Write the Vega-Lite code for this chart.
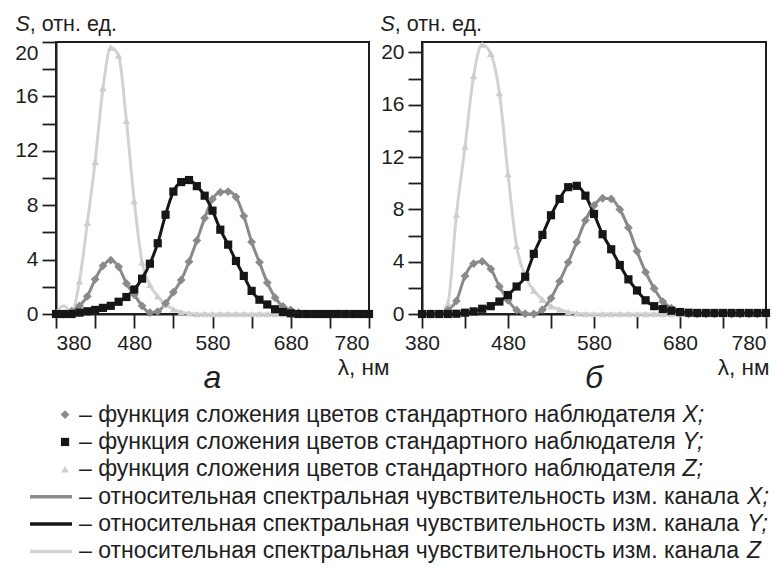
{
  "$schema": "https://vega.github.io/schema/vega-lite/v6.json",
  "background": "white",
  "padding": {"left": 13, "top": 12, "right": 5, "bottom": 2},
  "spacing": 0,
  "config": {
    "font": "Liberation Sans",
    "view": {"stroke": "#1e1e1e", "strokeWidth": 2},
    "axis": {"grid": false, "domainColor": "#1e1e1e", "domainWidth": 2, "tickColor": "#1e1e1e", "tickWidth": 1.8, "tickSize": 14, "labelFont": "Liberation Sans", "labelFontSize": 21, "labelColor": "#1e1e1e", "labelPadding": 4, "titleFont": "Liberation Sans", "titleFontSize": 21.5, "titleFontWeight": "normal", "titleColor": "#1e1e1e"},
    "title": {"font": "Liberation Sans", "fontSize": 32, "fontStyle": "italic", "fontWeight": "normal", "color": "#1e1e1e", "orient": "bottom", "frame": "group", "offset": -16}
  },
  "datasets": {
    "curves": [
      {"p":"а","lam":380,"fX":0,"fY":0,"fZ":0,"cX":0,"cY":0,"cZ":0.1},
      {"p":"а","lam":390,"fX":0,"fY":0,"fZ":0,"cX":0,"cY":0,"cZ":0.6},
      {"p":"а","lam":400,"fX":0.2,"fY":0,"fZ":0.2,"cX":0.2,"cY":0,"cZ":0.15},
      {"p":"а","lam":410,"fX":0.6,"fY":0.1,"fZ":2.4,"cX":0.6,"cY":0.1,"cZ":2.4},
      {"p":"а","lam":420,"fX":1.3,"fY":0.2,"fZ":6.7,"cX":1.3,"cY":0.2,"cZ":6.7},
      {"p":"а","lam":430,"fX":2.55,"fY":0.3,"fZ":11.2,"cX":2.55,"cY":0.3,"cZ":11.2},
      {"p":"а","lam":440,"fX":3.55,"fY":0.45,"fZ":16.6,"cX":3.55,"cY":0.45,"cZ":16.6},
      {"p":"а","lam":450,"fX":3.96,"fY":0.6,"fZ":19.6,"cX":3.96,"cY":0.6,"cZ":19.6},
      {"p":"а","lam":460,"fX":3.47,"fY":0.9,"fZ":19.0,"cX":3.47,"cY":0.9,"cZ":19.0},
      {"p":"а","lam":470,"fX":2.25,"fY":1.25,"fZ":14.2,"cX":2.25,"cY":1.25,"cZ":14.2},
      {"p":"а","lam":480,"fX":1.42,"fY":1.8,"fZ":8.3,"cX":1.42,"cY":1.8,"cZ":8.3},
      {"p":"а","lam":490,"fX":0.6,"fY":2.6,"fZ":3.8,"cX":0.6,"cY":2.6,"cZ":3.8},
      {"p":"а","lam":500,"fX":0.1,"fY":3.7,"fZ":2.15,"cX":0.1,"cY":3.7,"cZ":2.15},
      {"p":"а","lam":510,"fX":0.18,"fY":5.2,"fZ":1.3,"cX":0.18,"cY":5.2,"cZ":1.3},
      {"p":"а","lam":520,"fX":0.78,"fY":7.3,"fZ":0.7,"cX":0.78,"cY":7.3,"cZ":0.7},
      {"p":"а","lam":530,"fX":1.6,"fY":9.0,"fZ":0.35,"cX":1.6,"cY":9.0,"cZ":0.35},
      {"p":"а","lam":540,"fX":2.5,"fY":9.7,"fZ":0.15,"cX":2.5,"cY":9.7,"cZ":0.15},
      {"p":"а","lam":550,"fX":3.85,"fY":9.85,"fZ":0.05,"cX":3.85,"cY":9.85,"cZ":0.05},
      {"p":"а","lam":560,"fX":5.4,"fY":9.4,"fZ":0,"cX":5.4,"cY":9.4,"cZ":0},
      {"p":"а","lam":570,"fX":7.05,"fY":8.7,"fZ":0,"cX":7.05,"cY":8.7,"cZ":0},
      {"p":"а","lam":580,"fX":8.45,"fY":7.6,"fZ":0,"cX":8.45,"cY":7.6,"cZ":0},
      {"p":"а","lam":590,"fX":8.95,"fY":6.2,"fZ":0,"cX":8.95,"cY":6.2,"cZ":0},
      {"p":"а","lam":600,"fX":9.0,"fY":5.1,"fZ":0,"cX":9.0,"cY":5.1,"cZ":0},
      {"p":"а","lam":610,"fX":8.6,"fY":3.9,"fZ":0,"cX":8.6,"cY":3.9,"cZ":0},
      {"p":"а","lam":620,"fX":7.2,"fY":2.8,"fZ":0,"cX":7.2,"cY":2.8,"cZ":0},
      {"p":"а","lam":630,"fX":5.3,"fY":1.7,"fZ":0,"cX":5.3,"cY":1.7,"cZ":0},
      {"p":"а","lam":640,"fX":3.8,"fY":1.05,"fZ":0,"cX":3.8,"cY":1.05,"cZ":0},
      {"p":"а","lam":650,"fX":2.3,"fY":0.7,"fZ":0,"cX":2.3,"cY":0.7,"cZ":0},
      {"p":"а","lam":660,"fX":1.2,"fY":0.35,"fZ":0,"cX":1.2,"cY":0.35,"cZ":0},
      {"p":"а","lam":670,"fX":0.55,"fY":0.15,"fZ":0,"cX":0.55,"cY":0.15,"cZ":0},
      {"p":"а","lam":680,"fX":0.3,"fY":0.05,"fZ":0,"cX":0.3,"cY":0.05,"cZ":0},
      {"p":"а","lam":690,"fX":0.1,"fY":0,"fZ":0,"cX":0.1,"cY":0,"cZ":0},
      {"p":"а","lam":700,"fX":0,"fY":0,"fZ":0,"cX":0,"cY":0,"cZ":0},
      {"p":"а","lam":710,"fX":0,"fY":0,"fZ":0,"cX":0,"cY":0,"cZ":0},
      {"p":"а","lam":720,"fX":0,"fY":0,"fZ":0,"cX":0,"cY":0,"cZ":0},
      {"p":"а","lam":730,"fX":0,"fY":0,"fZ":0,"cX":0,"cY":0,"cZ":0},
      {"p":"а","lam":740,"fX":0,"fY":0,"fZ":0,"cX":0,"cY":0,"cZ":0},
      {"p":"а","lam":750,"fX":0,"fY":0,"fZ":0,"cX":0,"cY":0,"cZ":0},
      {"p":"а","lam":760,"fX":0,"fY":0,"fZ":0,"cX":0,"cY":0,"cZ":0},
      {"p":"а","lam":770,"fX":0,"fY":0,"fZ":0,"cX":0,"cY":0,"cZ":0},
      {"p":"а","lam":780,"fX":0,"fY":0,"fZ":0,"cX":0,"cY":0,"cZ":0},
      {"p":"б","lam":380,"fX":0,"fY":0,"fZ":0,"cX":0,"cY":0,"cZ":0},
      {"p":"б","lam":390,"fX":0,"fY":0,"fZ":0,"cX":0,"cY":0,"cZ":0},
      {"p":"б","lam":400,"fX":0,"fY":0,"fZ":0,"cX":0,"cY":0,"cZ":0},
      {"p":"б","lam":410,"fX":0.3,"fY":0,"fZ":0.8,"cX":0.3,"cY":0,"cZ":0.8},
      {"p":"б","lam":420,"fX":1.0,"fY":0.02,"fZ":7.6,"cX":1.0,"cY":0.02,"cZ":7.6},
      {"p":"б","lam":430,"fX":2.9,"fY":0.1,"fZ":12.8,"cX":2.9,"cY":0.1,"cZ":12.8},
      {"p":"б","lam":440,"fX":3.85,"fY":0.2,"fZ":18.2,"cX":3.85,"cY":0.2,"cZ":18.2},
      {"p":"б","lam":450,"fX":4.02,"fY":0.4,"fZ":20.6,"cX":4.02,"cY":0.4,"cZ":20.6},
      {"p":"б","lam":460,"fX":3.45,"fY":0.6,"fZ":19.9,"cX":3.45,"cY":0.6,"cZ":19.9},
      {"p":"б","lam":470,"fX":2.1,"fY":0.95,"fZ":16.9,"cX":2.1,"cY":0.95,"cZ":16.9},
      {"p":"б","lam":480,"fX":1.05,"fY":1.45,"fZ":10.7,"cX":1.05,"cY":1.45,"cZ":10.7},
      {"p":"б","lam":490,"fX":0.3,"fY":2.1,"fZ":5.2,"cX":0.3,"cY":2.1,"cZ":5.2},
      {"p":"б","lam":500,"fX":0.02,"fY":2.85,"fZ":2.9,"cX":0.02,"cY":2.85,"cZ":2.9},
      {"p":"б","lam":510,"fX":0,"fY":4.6,"fZ":1.8,"cX":0,"cY":4.6,"cZ":1.8},
      {"p":"б","lam":520,"fX":0.33,"fY":6.05,"fZ":1.1,"cX":0.33,"cY":6.05,"cZ":1.1},
      {"p":"б","lam":530,"fX":1.2,"fY":7.55,"fZ":0.6,"cX":1.2,"cY":7.55,"cZ":0.6},
      {"p":"б","lam":540,"fX":2.5,"fY":8.8,"fZ":0.35,"cX":2.5,"cY":8.8,"cZ":0.35},
      {"p":"б","lam":550,"fX":3.95,"fY":9.7,"fZ":0.15,"cX":3.95,"cY":9.7,"cZ":0.15},
      {"p":"б","lam":560,"fX":5.5,"fY":9.8,"fZ":0.05,"cX":5.5,"cY":9.8,"cZ":0.05},
      {"p":"б","lam":570,"fX":7.15,"fY":9.05,"fZ":0,"cX":7.15,"cY":9.05,"cZ":0},
      {"p":"б","lam":580,"fX":8.3,"fY":7.65,"fZ":0,"cX":8.3,"cY":7.65,"cZ":0},
      {"p":"б","lam":590,"fX":8.85,"fY":6.1,"fZ":0,"cX":8.85,"cY":6.1,"cZ":0},
      {"p":"б","lam":600,"fX":8.8,"fY":4.95,"fZ":0,"cX":8.8,"cY":4.95,"cZ":0},
      {"p":"б","lam":610,"fX":8.0,"fY":3.75,"fZ":0,"cX":8.0,"cY":3.75,"cZ":0},
      {"p":"б","lam":620,"fX":6.6,"fY":2.65,"fZ":0,"cX":6.6,"cY":2.65,"cZ":0},
      {"p":"б","lam":630,"fX":4.8,"fY":1.8,"fZ":0,"cX":4.8,"cY":1.8,"cZ":0},
      {"p":"б","lam":640,"fX":3.2,"fY":1.05,"fZ":0,"cX":3.2,"cY":1.05,"cZ":0},
      {"p":"б","lam":650,"fX":1.95,"fY":0.6,"fZ":0,"cX":1.95,"cY":0.6,"cZ":0},
      {"p":"б","lam":660,"fX":0.95,"fY":0.38,"fZ":0,"cX":0.95,"cY":0.38,"cZ":0},
      {"p":"б","lam":670,"fX":0.45,"fY":0.25,"fZ":0,"cX":0.45,"cY":0.25,"cZ":0},
      {"p":"б","lam":680,"fX":0.15,"fY":0.15,"fZ":0,"cX":0.15,"cY":0.15,"cZ":0},
      {"p":"б","lam":690,"fX":0,"fY":0.1,"fZ":0,"cX":0,"cY":0.1,"cZ":0},
      {"p":"б","lam":700,"fX":0,"fY":0.08,"fZ":0,"cX":0,"cY":0.08,"cZ":0},
      {"p":"б","lam":710,"fX":0,"fY":0.08,"fZ":0,"cX":0,"cY":0.08,"cZ":0},
      {"p":"б","lam":720,"fX":0,"fY":0.08,"fZ":0,"cX":0,"cY":0.08,"cZ":0},
      {"p":"б","lam":730,"fX":0,"fY":0.08,"fZ":0,"cX":0,"cY":0.08,"cZ":0},
      {"p":"б","lam":740,"fX":0,"fY":0.08,"fZ":0,"cX":0,"cY":0.08,"cZ":0},
      {"p":"б","lam":750,"fX":0,"fY":0.08,"fZ":0,"cX":0,"cY":0.08,"cZ":0},
      {"p":"б","lam":760,"fX":0,"fY":0.08,"fZ":0,"cX":0,"cY":0.08,"cZ":0},
      {"p":"б","lam":770,"fX":0,"fY":0.08,"fZ":0,"cX":0,"cY":0.08,"cZ":0},
      {"p":"б","lam":780,"fX":0,"fY":0.08,"fZ":0,"cX":0,"cY":0.08,"cZ":0}
    ],
    "legend": [
      {"row":1,"key":"fX","type":"f","text":"– функция сложения цветов стандартного наблюдателя","letter":"X;"},
      {"row":2,"key":"fY","type":"f","text":"– функция сложения цветов стандартного наблюдателя","letter":"Y;"},
      {"row":3,"key":"fZ","type":"f","text":"– функция сложения цветов стандартного наблюдателя","letter":"Z;"},
      {"row":4,"key":"cX","type":"c","text":"– относительная спектральная чувствительность изм. канала","letter":"X;"},
      {"row":5,"key":"cY","type":"c","text":"– относительная спектральная чувствительность изм. канала","letter":"Y;"},
      {"row":6,"key":"cZ","type":"c","text":"– относительная спектральная чувствительность изм. канала","letter":"Z"}
    ]
  },
  "vconcat": [
    {
      "hconcat": [
        {
          "width": 313, "height": 272,
          "data": {"name": "curves"},
          "transform": [{"filter": "datum.p == 'а'"}],
          "title": {"text": "а"},
          "encoding": {
            "x": {"field": "lam", "type": "quantitative",
              "scale": {"domain": [380, 780], "nice": false, "zero": false},
              "axis": {"values": [380,430,480,530,580,630,680,730,780], "labelExpr": "(datum.value - 380) % 100 == 0 ? datum.label : ''", "title": "λ, нм", "titleFontSize": 22.5, "titleAlign": "right", "titleAnchor": "end", "titleBaseline": "alphabetic", "titleX": 333, "titleY": 60}}
          },
          "layer": [
            {
              "transform": [{"fold": ["cZ","cX","cY"], "as": ["key","v"]}],
              "mark": {"type": "line", "interpolate": "monotone"},
              "encoding": {
                "y": {"field": "v", "type": "quantitative", "scale": {"domain": [0, 20], "nice": false},
                  "axis": {"values": [0,2,4,6,8,10,12,14,16,18,20], "labelExpr": "datum.value % 4 == 0 ? datum.label : ''", "labelBaseline": {"condition": {"test": "datum.value == 20", "value": "top"}, "value": "middle"}, "title": "S", "titleFontStyle": "italic", "titleAngle": 0, "titleAlign": "left", "titleBaseline": "alphabetic", "titleX": -41, "titleY": -12}},
                "color": {"field": "key", "type": "nominal", "scale": {"domain": ["fX","fY","fZ","cX","cY","cZ"], "range": ["#8a8a8a","#161616","#cdcdcd","#8a8a8a","#161616","#d2d2d2"]}, "legend": null},
                "strokeWidth": {"field": "key", "type": "nominal", "scale": {"domain": ["cX","cY","cZ"], "range": [3,3,4]}, "legend": null}
              }
            },
            {
              "transform": [{"fold": ["fZ","fX","fY"], "as": ["key","v"]}],
              "mark": {"type": "point", "filled": true, "opacity": 1},
              "encoding": {
                "y": {"field": "v", "type": "quantitative", "scale": {"domain": [0, 20], "nice": false},
                  "axis": {"orient": "left", "title": ", отн. ед.", "labels": false, "ticks": false, "domain": false, "titleAngle": 0, "titleAlign": "left", "titleBaseline": "alphabetic", "titleX": -26.7, "titleY": -12}},
                "color": {"field": "key", "type": "nominal", "scale": {"domain": ["fX","fY","fZ","cX","cY","cZ"], "range": ["#8a8a8a","#161616","#cdcdcd","#8a8a8a","#161616","#d2d2d2"]}, "legend": null},
                "shape": {"field": "key", "type": "nominal", "scale": {"domain": ["fX","fY","fZ"], "range": ["diamond","square","triangle-up"]}, "legend": null},
                "size": {"field": "key", "type": "nominal", "scale": {"domain": ["fX","fY","fZ"], "range": [78,56,22]}, "legend": null}
              }
            }
          ],
          "resolve": {"axis": {"y": "independent"}}
        },
        {
          "width": 344, "height": 272,
          "data": {"name": "curves"},
          "transform": [{"filter": "datum.p == 'б'"}],
          "title": {"text": "б"},
          "encoding": {
            "x": {"field": "lam", "type": "quantitative",
              "scale": {"domain": [380, 780], "nice": false, "zero": false},
              "axis": {"values": [380,430,480,530,580,630,680,730,780], "labelExpr": "(datum.value - 380) % 100 == 0 ? datum.label : ''", "labelAlign": {"condition": {"test": "datum.value == 780", "value": "right"}, "value": "center"}, "title": "λ, нм", "titleFontSize": 22.5, "titleAlign": "right", "titleAnchor": "end", "titleBaseline": "alphabetic", "titleX": 347, "titleY": 60}}
          },
          "layer": [
            {
              "transform": [{"fold": ["cZ","cX","cY"], "as": ["key","v"]}],
              "mark": {"type": "line", "interpolate": "monotone"},
              "encoding": {
                "y": {"field": "v", "type": "quantitative", "scale": {"domain": [0, 20.8], "nice": false},
                  "axis": {"values": [0,2,4,6,8,10,12,14,16,18,20], "labelExpr": "datum.value % 4 == 0 ? datum.label : ''", "title": "S", "titleFontStyle": "italic", "titleAngle": 0, "titleAlign": "left", "titleBaseline": "alphabetic", "titleX": -42, "titleY": -12}},
                "color": {"field": "key", "type": "nominal", "scale": {"domain": ["fX","fY","fZ","cX","cY","cZ"], "range": ["#8a8a8a","#161616","#cdcdcd","#8a8a8a","#161616","#d2d2d2"]}, "legend": null},
                "strokeWidth": {"field": "key", "type": "nominal", "scale": {"domain": ["cX","cY","cZ"], "range": [3,3,4]}, "legend": null}
              }
            },
            {
              "transform": [{"fold": ["fZ","fX","fY"], "as": ["key","v"]}],
              "mark": {"type": "point", "filled": true, "opacity": 1},
              "encoding": {
                "y": {"field": "v", "type": "quantitative", "scale": {"domain": [0, 20.8], "nice": false},
                  "axis": {"orient": "left", "title": ", отн. ед.", "labels": false, "ticks": false, "domain": false, "titleAngle": 0, "titleAlign": "left", "titleBaseline": "alphabetic", "titleX": -27.7, "titleY": -12}},
                "color": {"field": "key", "type": "nominal", "scale": {"domain": ["fX","fY","fZ","cX","cY","cZ"], "range": ["#8a8a8a","#161616","#cdcdcd","#8a8a8a","#161616","#d2d2d2"]}, "legend": null},
                "shape": {"field": "key", "type": "nominal", "scale": {"domain": ["fX","fY","fZ"], "range": ["diamond","square","triangle-up"]}, "legend": null},
                "size": {"field": "key", "type": "nominal", "scale": {"domain": ["fX","fY","fZ"], "range": [78,56,22]}, "legend": null}
              }
            }
          ],
          "resolve": {"axis": {"y": "independent"}}
        }
      ],
      "spacing": 53,
      "bounds": "flush"
    },
    {
      "width": 711, "height": 176,
      "view": {"stroke": null},
      "data": {"name": "legend"},
      "encoding": {"y": {"field": "row", "type": "ordinal", "axis": null, "scale": {"padding": 0.433}}},
      "layer": [
        {
          "transform": [{"filter": "datum.type == 'c'"}],
          "mark": {"type": "rule", "strokeWidth": 3.5},
          "encoding": {
            "x": {"datum": -3.66, "type": "quantitative", "scale": {"domain": [0, 100], "nice": false}, "axis": null},
            "x2": {"datum": 2.25},
            "color": {"field": "key", "type": "nominal", "scale": {"domain": ["fX","fY","fZ","cX","cY","cZ"], "range": ["#8a8a8a","#161616","#cdcdcd","#8a8a8a","#161616","#d2d2d2"]}, "legend": null}
          }
        },
        {
          "transform": [{"filter": "datum.type == 'f'"}],
          "mark": {"type": "point", "filled": true, "opacity": 1},
          "encoding": {
            "x": {"datum": 1.27, "type": "quantitative"},
            "color": {"field": "key", "type": "nominal", "scale": {"domain": ["fX","fY","fZ","cX","cY","cZ"], "range": ["#8a8a8a","#161616","#cdcdcd","#8a8a8a","#161616","#d2d2d2"]}, "legend": null},
            "shape": {"field": "key", "type": "nominal", "scale": {"domain": ["fX","fY","fZ"], "range": ["diamond","square","triangle-up"]}, "legend": null},
            "size": {"field": "key", "type": "nominal", "scale": {"domain": ["fX","fY","fZ"], "range": [78,56,22]}, "legend": null}
          }
        },
        {
          "mark": {"type": "text", "align": "left", "baseline": "middle", "fontSize": 23, "color": "#1e1e1e", "font": "Liberation Sans"},
          "encoding": {"x": {"datum": 3.23, "type": "quantitative"}, "text": {"field": "text"}}
        },
        {
          "transform": [{"filter": "datum.type == 'f'"}],
          "mark": {"type": "text", "align": "left", "baseline": "middle", "fontSize": 23, "fontStyle": "italic", "color": "#1e1e1e", "font": "Liberation Sans"},
          "encoding": {"x": {"datum": 88.1, "type": "quantitative"}, "text": {"field": "letter"}}
        },
        {
          "transform": [{"filter": "datum.type == 'c'"}],
          "mark": {"type": "text", "align": "left", "baseline": "middle", "fontSize": 23, "fontStyle": "italic", "color": "#1e1e1e", "font": "Liberation Sans"},
          "encoding": {"x": {"datum": 97.2, "type": "quantitative"}, "text": {"field": "letter"}}
        }
      ]
    }
  ]
}
